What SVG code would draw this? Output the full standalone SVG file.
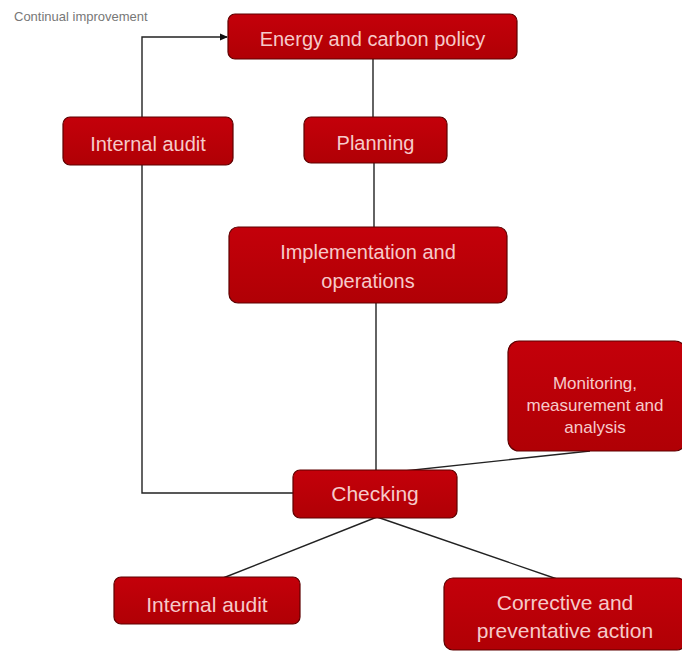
<svg xmlns="http://www.w3.org/2000/svg" width="682" height="651" viewBox="0 0 682 651">
<style>
.box{fill:url(#g);stroke:#5e0000;stroke-width:1.2}
.t{font-family:"Liberation Sans","DejaVu Sans",sans-serif;fill:#f6caca;text-anchor:middle}
.c{stroke:#222;stroke-width:1.4;fill:none}
</style>
<defs>
<linearGradient id="g" x1="0" y1="0" x2="0" y2="1">
<stop offset="0" stop-color="#c4000a"/>
<stop offset="1" stop-color="#b00005"/>
</linearGradient>
<marker id="arr" markerWidth="8" markerHeight="8" refX="7" refY="4" orient="auto" markerUnits="userSpaceOnUse">
<path d="M0,0.5 L8,4 L0,7.5 Z" fill="#111"/>
</marker>
</defs>
<rect width="682" height="651" fill="#fff"/>
<text x="14" y="21" font-family="Liberation Sans,sans-serif" font-size="13" fill="#777">Continual improvement</text>
<g id="connectors">
<line class="c" x1="373" y1="59" x2="373" y2="117"/>
<line class="c" x1="374" y1="163" x2="374" y2="227"/>
<line class="c" x1="376" y1="303" x2="376" y2="472"/>
<path class="c" d="M142,165 V493 H293"/>
<path class="c" d="M142,117 V37 H227" marker-end="url(#arr)"/>
<line class="c" x1="590" y1="451" x2="376" y2="474"/>
<line class="c" x1="377" y1="517" x2="223" y2="578"/>
<line class="c" x1="377" y1="517" x2="557" y2="579"/>
</g>
<g id="policy"><rect class="box" x="228" y="14" width="289" height="45" rx="7"/><text class="t" x="372.5" y="46" font-size="20">Energy and carbon policy</text></g>
<g id="audit-top"><rect class="box" x="63" y="117" width="170" height="48" rx="7"/><text class="t" x="148" y="151" font-size="20">Internal audit</text></g>
<g id="planning"><rect class="box" x="304" y="117" width="143" height="46" rx="7"/><text class="t" x="375.5" y="150" font-size="20">Planning</text></g>
<g id="implementation"><rect class="box" x="229" y="227" width="278" height="76" rx="9"/><text class="t" x="368" y="259" font-size="20">Implementation and</text><text class="t" x="368" y="288" font-size="20">operations</text></g>
<g id="monitoring"><rect class="box" x="508" y="341" width="178" height="110" rx="11"/><text class="t" x="595" y="389" font-size="17">Monitoring,</text><text class="t" x="595" y="411" font-size="17">measurement and</text><text class="t" x="595" y="433" font-size="17">analysis</text></g>
<g id="checking"><rect class="box" x="293" y="470" width="164" height="48" rx="7"/><text class="t" x="375" y="501" font-size="21">Checking</text></g>
<g id="audit-bottom"><rect class="box" x="114" y="577" width="186" height="47" rx="7"/><text class="t" x="207" y="612" font-size="21">Internal audit</text></g>
<g id="corrective"><rect class="box" x="444" y="578" width="242" height="72" rx="9"/><text class="t" x="565" y="610" font-size="21">Corrective and</text><text class="t" x="565" y="638" font-size="21">preventative action</text></g>
</svg>
